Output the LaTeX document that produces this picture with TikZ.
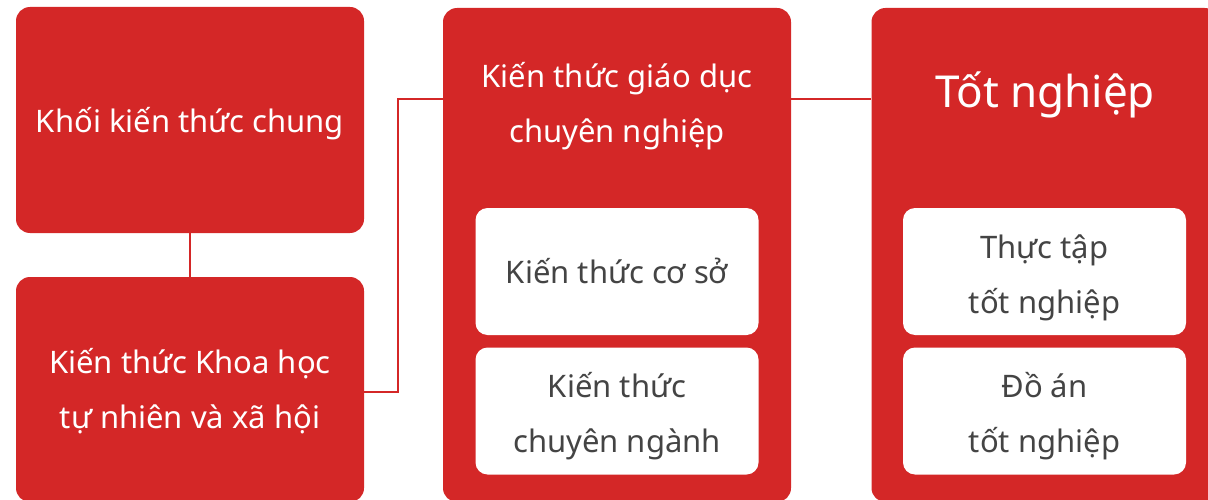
\documentclass[tikz,border=0pt]{standalone}
\usepackage{fontspec}
\setmainfont{Noto Sans}
\definecolor{brand}{HTML}{D42727}
\definecolor{ink}{HTML}{444444}
\begin{document}
\begin{tikzpicture}[x=1pt,y=-1pt,
  redbox/.style={fill=brand,draw=none,rounded corners=14pt,inner sep=0pt},
  whitebox/.style={fill=white,draw=none,rounded corners=12pt,inner sep=0pt,minimum width=283pt,minimum height=127pt},
  wtext/.style={text=white,align=center,font=\fontsize{31}{55}\selectfont,inner sep=0pt},
  gtext/.style={text=ink,align=center,font=\fontsize{31}{55}\selectfont,inner sep=0pt},
  link/.style={draw=brand,line width=2pt}]
\useasboundingbox (0,0) rectangle (1208,500);
% outer boxes
\node[redbox,minimum width=348pt,minimum height=226pt] (A) at (190,120) {};
\node[redbox,minimum width=348pt,minimum height=225pt] (B) at (190,389.5) {};
\node[redbox,minimum width=348pt,minimum height=494pt] (C) at (617,255) {};
\node[redbox,minimum width=347pt,minimum height=494pt] (D) at (1045,255) {};
% inner boxes
\node[whitebox] (C1) at (617,271.5) {};
\node[whitebox] (C2) at (617,411) {};
\node[whitebox] (D1) at (1044.5,271.5) {};
\node[whitebox] (D2) at (1044.5,411) {};
% connectors
\coordinate (j) at (398,99);
\coordinate (k) at (398,392);
\draw[link] (A.south) -- (B.north);
\draw[link] (k -| B.east) -- (k) -- (j) -- (j -| C.west);
\draw[link] (j -| C.east) -- (j -| D.west);
% texts (base anchor = last line baseline)
\node[wtext,anchor=base] (tA) at (190,133) {Khối kiến thức chung};
\node[wtext,anchor=base] (tB) at (190,428) {Kiến thức Khoa học\\tự nhiên và xã hội};
\node[wtext,anchor=base] (tC) at (617,143) {Kiến thức giáo dục\\chuyên nghiệp};
\node[wtext,anchor=base,font=\fontsize{44}{50}\selectfont] (tD) at (1045,108) {Tốt nghiệp};
\node[gtext,anchor=base] (tC1) at (617,283) {Kiến thức cơ sở};
\node[gtext,anchor=base] (tC2) at (617,452) {Kiến thức\\chuyên ngành};
\node[gtext,anchor=base] (tD1) at (1044.5,313) {Thực tập\\tốt nghiệp};
\node[gtext,anchor=base] (tD2) at (1044.5,452) {Đồ án\\tốt nghiệp};
\end{tikzpicture}
\end{document}
